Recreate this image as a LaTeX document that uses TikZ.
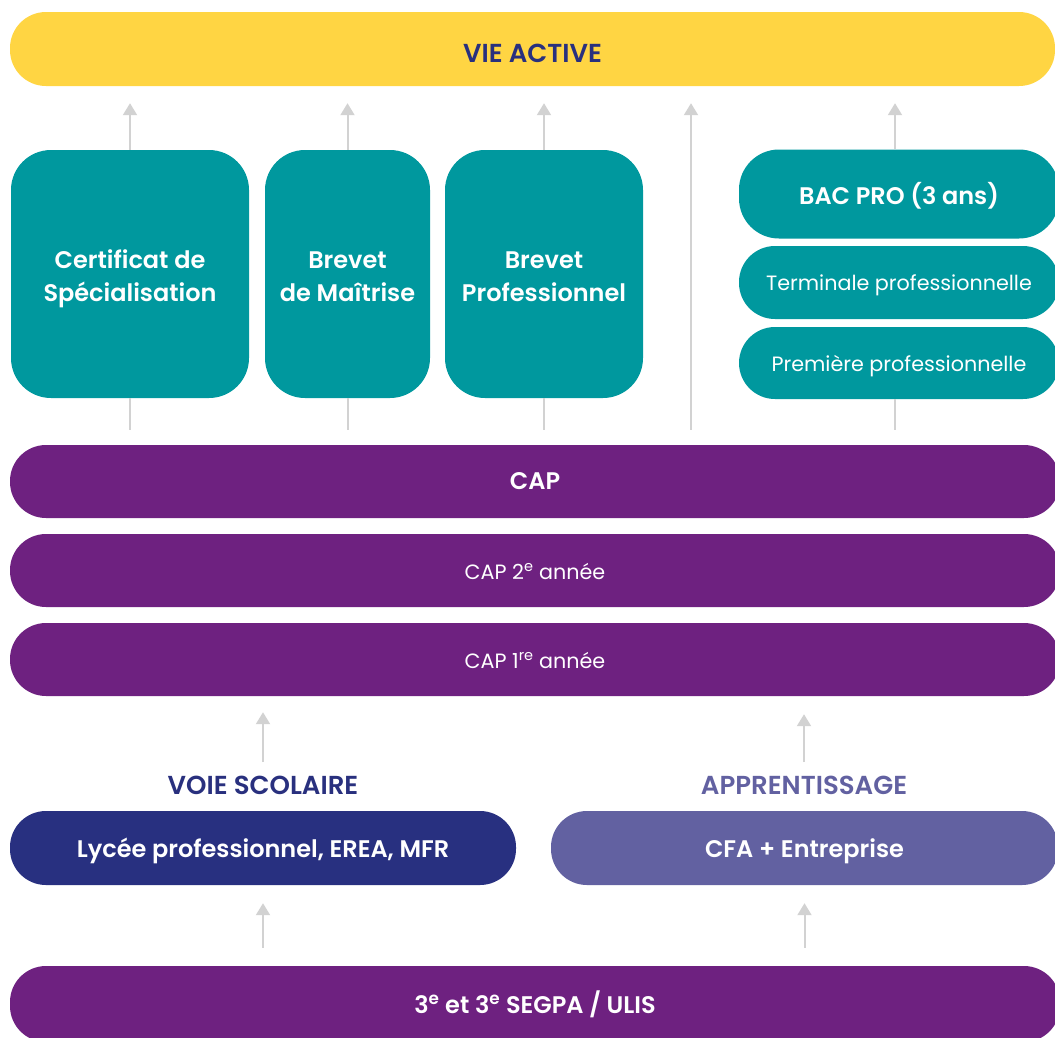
\documentclass[tikz,border=0pt]{standalone}
\usepackage{fontspec}
\setmainfont{Poppins}[BoldFont={Poppins SemiBold}]
\usetikzlibrary{arrows.meta}
\definecolor{cyellow}{HTML}{FFD543}
\definecolor{cnavy}{HTML}{29307E}
\definecolor{cteal}{HTML}{00989E}
\definecolor{cpurple}{HTML}{6E2180}
\definecolor{cdark}{HTML}{283080}
\definecolor{clav}{HTML}{6261A1}
\definecolor{cgray}{HTML}{D2D2D2}
% lower node text by half of #1 (extra height above the text box)
\newcommand\txtdown[2]{\raisebox{0pt}[\dimexpr\height+#1\relax][\depth]{#2}}
\newcommand\twolines[2]{\begin{tabular}{@{}c@{}}#1\\#2\end{tabular}}
\tikzset{
  box/.style={draw=none, rectangle, inner sep=0pt, align=center, text=white},
  pill/.style={box, rounded corners=36pt, minimum height=74pt},
  tall/.style={box, rounded corners=40pt, minimum height=248pt},
  bigtxt/.style={font=\bfseries\fontsize{24}{33}\selectfont},
  captxt/.style={font=\bfseries\fontsize{26}{33}\selectfont},
  smalltxt/.style={font=\fontsize{20.7}{26}\selectfont},
  arr/.style={draw=cgray, line width=2pt, -{Triangle[width=14pt,length=12pt]}},
  ln/.style={draw=cgray, line width=2pt},
}
\begin{document}
\begin{tikzpicture}[x=1pt,y=-1pt]
\useasboundingbox (0,0) rectangle (1055,1037);
\clip (0,0) rectangle (1055,1037);
% column coordinates
\coordinate (c4) at (691,0);
\coordinate (c5) at (895,0);
% nodes
\node[pill, fill=cyellow, minimum width=1045pt, text=cnavy, captxt] (vie) at (532.5,49) {\txtdown{8pt}{VIE ACTIVE}};
\node[tall, fill=cteal, minimum width=238pt, bigtxt] (cert) at (130,274) {\txtdown{8pt}{\twolines{Certificat de}{Spécialisation}}};
\node[tall, fill=cteal, minimum width=165pt, bigtxt] (bm) at (347.5,274) {\txtdown{8pt}{\twolines{Brevet}{de Maîtrise}}};
\node[tall, fill=cteal, minimum width=198pt, bigtxt] (bp) at (544,274) {\txtdown{8pt}{\twolines{Brevet}{Professionnel}}};
\node[pill, fill=cteal, minimum width=320pt, minimum height=89pt, rounded corners=40pt, bigtxt] (bac) at (899,194) {\txtdown{3pt}{BAC PRO (3 ans)}};
\node[pill, fill=cteal, minimum width=320pt, minimum height=73pt, smalltxt] (term) at (899,282.5) {\txtdown{6pt}{Terminale professionnelle}};
\node[pill, fill=cteal, minimum width=320pt, minimum height=72pt, smalltxt] (prem) at (899,363) {\txtdown{6pt}{Première professionnelle}};
\node[pill, fill=cpurple, minimum width=1050pt, minimum height=73pt, bigtxt] (cap) at (535,481.5) {CAP};
\node[pill, fill=cpurple, minimum width=1050pt, minimum height=73pt, smalltxt] (cap2) at (535,570.5) {\txtdown{2pt}{CAP 2\textsuperscript{e} année}};
\node[pill, fill=cpurple, minimum width=1050pt, minimum height=73pt, smalltxt] (cap1) at (535,659.5) {\txtdown{2pt}{CAP 1\textsuperscript{re} année}};
\node[text=cnavy, captxt] (vs) at (263,785) {VOIE SCOLAIRE};
\node[text=clav, captxt] (ap) at (804,785) {APPRENTISSAGE};
\node[pill, fill=cdark, minimum width=506pt, minimum height=74pt, bigtxt] (lyc) at (263,848) {\txtdown{6pt}{Lycée professionnel, EREA, MFR}};
\node[pill, fill=clav, minimum width=507pt, minimum height=74pt, bigtxt] (cfa) at (804.5,848) {\txtdown{6pt}{CFA + Entreprise}};
\node[pill, fill=cpurple, minimum width=1050pt, minimum height=76pt, bigtxt] (troi) at (535,1004) {3\textsuperscript{e} et 3\textsuperscript{e} SEGPA / ULIS};
% upper connectors
\draw[ln] ([yshift=15pt]cert |- cap.north) -- (cert.south);
\draw[arr] (cert.north) -- ([yshift=-17pt]cert |- vie.south);
\draw[ln] ([yshift=15pt]bm |- cap.north) -- (bm.south);
\draw[arr] (bm.north) -- ([yshift=-17pt]bm |- vie.south);
\draw[ln] ([yshift=15pt]bp |- cap.north) -- (bp.south);
\draw[arr] (bp.north) -- ([yshift=-17pt]bp |- vie.south);
\draw[arr] ([yshift=15pt]c4 |- cap.north) -- ([yshift=-17pt]c4 |- vie.south);
\draw[ln] ([yshift=15pt]c5 |- cap.north) -- (c5 |- prem.south);
\draw[arr] (c5 |- bac.north) -- ([yshift=-17pt]c5 |- vie.south);
% lower connectors
\draw[arr] ([yshift=10pt]vs.north) -- ([yshift=-16pt]vs |- cap1.south);
\draw[arr] ([yshift=10pt]ap.north) -- ([yshift=-18pt]ap |- cap1.south);
\draw[arr] ([yshift=18pt]lyc |- troi.north) -- ([yshift=-18pt]lyc.south);
\draw[arr] ([yshift=18pt]cfa |- troi.north) -- ([yshift=-18pt]cfa.south);
\end{tikzpicture}
\end{document}
